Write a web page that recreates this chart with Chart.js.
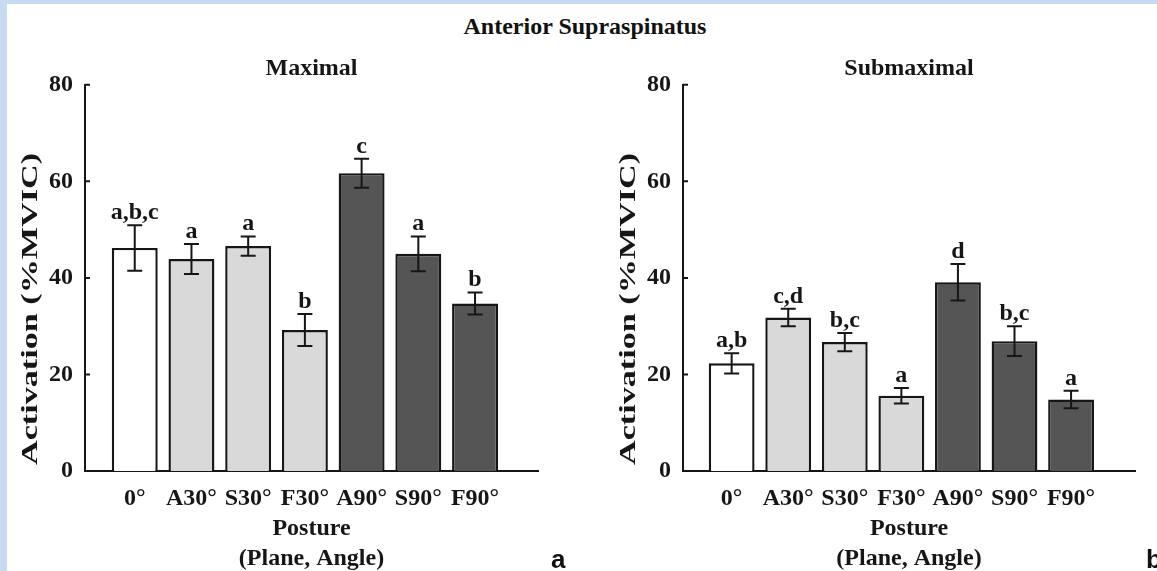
<!DOCTYPE html>
<html>
<head>
<meta charset="utf-8">
<script src="https://cdn.jsdelivr.net/npm/chart.js@4.4.1/dist/chart.umd.min.js"></script>
<style>
  body { margin: 0; background: #fff; }
  #wrap { position: relative; width: 1157px; height: 571px; overflow: hidden; background: #fff; }
  .edge { position: absolute; background: #c6daf1; }
  canvas { position: absolute; top: 0; }
  #mainTitle { position: absolute; left: 385px; width: 400px; top: 14px; text-align: center;
    font: bold 24px "Liberation Serif", serif; line-height: 24px; color: #111; }
  .panel { position: absolute; top: 546px; font: bold 26px "Liberation Sans", Arial, sans-serif;
    line-height: 26px; color: #111; }
</style>
</head>
<body>
<div id="wrap">
  <div class="edge" style="left:0;top:0;width:7px;height:571px"></div>
  <div class="edge" style="left:0;top:0;width:1157px;height:4px"></div>
  <div id="mainTitle">Anterior Supraspinatus</div>
  <canvas id="maxChart" width="598" height="571" style="left:0"></canvas>
  <canvas id="subChart" width="559" height="571" style="left:598px"></canvas>
  <div class="panel" style="left:551px">a</div>
  <div class="panel" style="left:1146px">b</div>
</div>
<script>
// postures on the x axis
const postures = ['0°', 'A30°', 'S30°', 'F30°', 'A90°', 'S90°', 'F90°'];
const yTicks = [0, 20, 40, 60, 80];

// Maximal: mean activation, error and significance letters
const maxMean = [46.2, 43.9, 46.6, 29.2, 61.7, 45.0, 34.7];
const maxErr = [4.7, 3.1, 2.0, 3.3, 3.0, 3.6, 2.3];
const maxLetters = ['a,b,c', 'a', 'a', 'b', 'c', 'a', 'b'];

// Submaximal
const subMean = [22.3, 31.8, 26.7, 15.6, 39.1, 26.9, 14.8];
const subErr = [2.1, 1.8, 1.9, 1.6, 3.8, 3.1, 1.8];
const subLetters = ['a,b', 'c,d', 'b,c', 'a', 'd', 'b,c', 'a'];

const barColors = ['#ffffff', '#d9d9d9', '#d9d9d9', '#d9d9d9', '#555555', '#555555', '#555555'];
const ink = '#161616';
const serif = '"Liberation Serif", "Times New Roman", serif';

// error bars, letters, inward y ticks and the stretched y title
const errorBars = {
  id: 'errorBars',
  afterDatasetsDraw(chart, args, opts) {
    const ctx = chart.ctx;
    const y = chart.scales.y;
    const meta = chart.getDatasetMeta(0);
    ctx.save();
    ctx.strokeStyle = ink;
    ctx.lineWidth = 2;
    meta.data.forEach((bar, i) => {
      const top = y.getPixelForValue(opts.means[i] + opts.errors[i]);
      const bot = y.getPixelForValue(opts.means[i] - opts.errors[i]);
      ctx.beginPath();
      ctx.moveTo(bar.x, top); ctx.lineTo(bar.x, bot);
      ctx.moveTo(bar.x - 7.5, top); ctx.lineTo(bar.x + 7.5, top);
      ctx.moveTo(bar.x - 7.5, bot); ctx.lineTo(bar.x + 7.5, bot);
      ctx.stroke();
      ctx.fillStyle = ink;
      ctx.font = 'bold 24px ' + serif;
      ctx.textAlign = 'center';
      ctx.textBaseline = 'alphabetic';
      ctx.fillText(opts.letters[i], bar.x, top - 6);
    });
    // tick marks pointing into the plot
    const left = chart.chartArea.left;
    ctx.beginPath();
    y.ticks.forEach(t => {
      const py = y.getPixelForValue(t.value);
      ctx.moveTo(left, py); ctx.lineTo(left + 5, py);
    });
    ctx.stroke();
    ctx.restore();
  },
  afterDraw(chart, args, opts) {
    const ctx = chart.ctx;
    ctx.save();
    ctx.fillStyle = ink;
    ctx.font = 'bold 24px ' + serif;
    const w = ctx.measureText(opts.yTitle).width;
    ctx.translate(31, 309);
    ctx.rotate(-Math.PI / 2);
    ctx.scale(312 / w, 1);
    ctx.textAlign = 'center';
    ctx.textBaseline = 'middle';
    ctx.fillText(opts.yTitle, 0, 0);
    ctx.restore();
  }
};

function makeChart(id, title, means, errors, letters, xMin, xMax, padRight) {
  return new Chart(document.getElementById(id), {
    type: 'bar',
    data: {
      datasets: [{
        data: means.map((v, i) => ({ x: i, y: v })),
        backgroundColor: barColors,
        borderColor: ink,
        borderWidth: 2.4,
        barPercentage: 0.81,
        categoryPercentage: 1
      }]
    },
    options: {
      responsive: false,
      animation: false,
      devicePixelRatio: 1,
      layout: { padding: { left: 25, right: padRight, top: 38, bottom: 0 } },
      plugins: {
        legend: { display: false },
        tooltip: { enabled: false },
        title: {
          display: true,
          text: title,
          fullSize: false,
          color: ink,
          font: { family: serif, size: 24, weight: 'bold', lineHeight: 1.2 },
          padding: { top: 16, bottom: 2 }
        },
        errorBars: { means: means, errors: errors, letters: letters, yTitle: 'Activation (%MVIC)' }
      },
      scales: {
        x: {
          type: 'linear',
          offset: false,
          min: xMin,
          max: xMax,
          grid: { display: false, drawTicks: false },
          border: { display: true, color: ink, width: 2 },
          afterBuildTicks: (scale) => { scale.ticks = postures.map((p, i) => ({ value: i })); },
          afterFit: (scale) => { scale.height = 100; },
          ticks: {
            autoSkip: false,
            maxRotation: 0,
            padding: 13,
            color: ink,
            font: { family: serif, size: 24, weight: 'bold' },
            callback: (v) => postures[v]
          },
          title: {
            display: true,
            text: ['Posture', '(Plane, Angle)'],
            color: ink,
            font: { family: serif, size: 24, weight: 'bold', lineHeight: 1.25 },
            padding: { top: 0, bottom: -3 }
          }
        },
        y: {
          min: 0,
          max: 80,
          grid: { display: false, drawTicks: false },
          border: { display: true, color: ink, width: 2 },
          afterBuildTicks: (scale) => { scale.ticks = yTicks.map(v => ({ value: v })); },
          afterFit: (scale) => { scale.width = 60; },
          ticks: {
            padding: 12,
            color: ink,
            font: { family: serif, size: 24, weight: 'bold' }
          }
        }
      }
    },
    plugins: [errorBars]
  });
}

makeChart('maxChart', 'Maximal', maxMean, maxErr, maxLetters, -0.877, 7.11, 60);
makeChart('subChart', 'Submaximal', subMean, subErr, subLetters, -0.86, 7.13, 22);
</script>
</body>
</html>
